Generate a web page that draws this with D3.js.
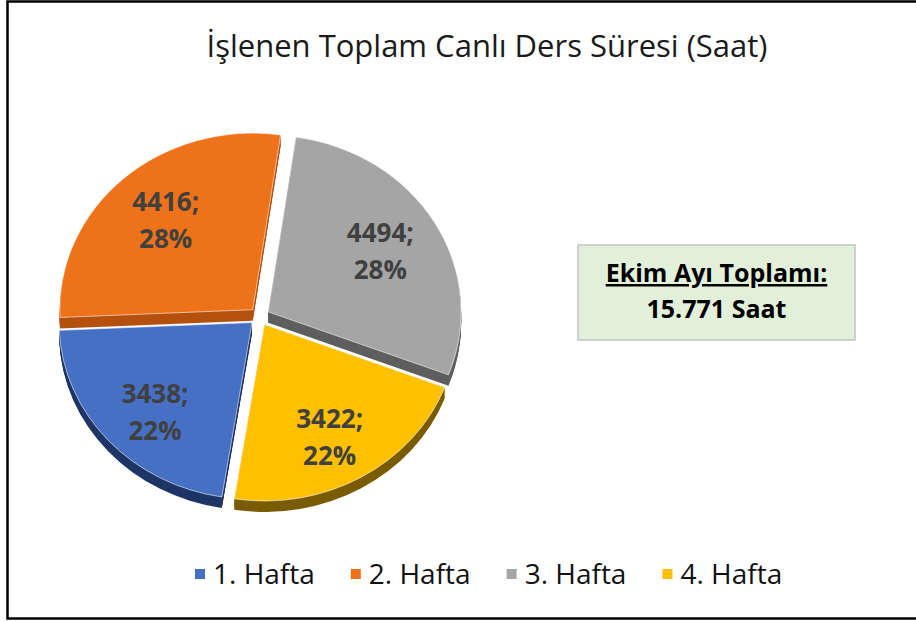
<!DOCTYPE html>
<html>
<head>
<meta charset="utf-8">
<script src="https://d3js.org/d3.v7.min.js"></script>
<style>
  body { margin: 0; background: #fff; }
  text { font-family: "Open Sans", sans-serif; }
</style>
</head>
<body>
<div id="chart"></div>
<script>
// chart values
const categories = ["1. Hafta", "2. Hafta", "3. Hafta", "4. Hafta"];
const hours = [3438, 4416, 4494, 3422];
const percents = ["22%", "28%", "28%", "22%"];
const topColors = ["#4570C4", "#EE7219", "#A5A5A5", "#FFC000"];
const sideColors = ["#1f3566", "#b5510f", "#5f5f5f", "#7a5c00"];
const titleText = "İşlenen Toplam Canlı Ders Süresi (Saat)";
const boxLines = ["Ekim Ayı Toplamı:", "15.771 Saat"];

const w = 916, h = 621;
const cx = 259.5, cy = 316.5;
const radius = 193, tilt = 0.915, depth = 11, explode = 10;
const deg = Math.PI / 180;

const svg = d3.select('#chart').append('svg')
    .attr('width', w)
    .attr('height', h);

// frame (left, top, bottom lines)
svg.append('path')
    .attr('d', 'M916,1.5 H7.5 V618.5 H916')
    .attr('fill', 'none')
    .attr('stroke', '#000')
    .attr('stroke-width', 2.5);

svg.append('text')
    .attr('x', 487)
    .attr('y', 57)
    .attr('text-anchor', 'middle')
    .attr('font-size', 31)
    .attr('fill', '#1a1a1a')
    .text(titleText);

const pie = d3.pie().sort(null)
    .startAngle(189 * deg)
    .endAngle(189 * deg + 2 * Math.PI);
const arcs = pie(hours);
const arc = d3.arc().innerRadius(0).outerRadius(radius);

const offset = (d) => {
    const mid = (d.startAngle + d.endAngle) / 2;
    return [Math.sin(mid) * explode, -Math.cos(mid) * explode];
};

const pieG = svg.append('g').attr('transform', `translate(${cx},${cy})`);

// side walls: stacked copies shifted down
for (let k = depth; k >= 1; k--) {
    pieG.append('g')
        .attr('transform', `translate(0,${k}) scale(1,${tilt})`)
        .selectAll('path')
        .data(arcs)
        .enter()
        .append('path')
        .attr('transform', d => `translate(${offset(d)})`)
        .attr('d', arc)
        .attr('fill', (d, i) => sideColors[i]);
}

// top faces
pieG.append('g')
    .attr('transform', `scale(1,${tilt})`)
    .selectAll('path')
    .data(arcs)
    .enter()
    .append('path')
    .attr('transform', d => `translate(${offset(d)})`)
    .attr('d', arc)
    .attr('fill', (d, i) => topColors[i])
    .attr('stroke', '#fff')
    .attr('stroke-opacity', 0.6)
    .attr('stroke-width', 1);

// data labels
const labelArc = d3.arc().innerRadius(130).outerRadius(130);
const labels = pieG.selectAll('g.lbl')
    .data(arcs)
    .enter()
    .append('g')
    .attr('class', 'lbl')
    .attr('transform', d => {
        const c = labelArc.centroid(d);
        const o = offset(d);
        const mid = (d.startAngle + d.endAngle) / 2;
        const front = Math.cos(mid) < 0 ? depth : 0;
        return `translate(${c[0] + o[0]},${(c[1] + o[1]) * tilt + front})`;
    });
labels.append('text')
    .attr('y', -10)
    .attr('text-anchor', 'middle')
    .attr('font-size', 26)
    .attr('font-weight', 'bold')
    .attr('fill', '#404040')
    .text(d => d.data + ';');
labels.append('text')
    .attr('y', 27)
    .attr('text-anchor', 'middle')
    .attr('font-size', 26)
    .attr('font-weight', 'bold')
    .attr('fill', '#404040')
    .text((d, i) => percents[i]);

// total box
const box = svg.append('g').attr('transform', 'translate(578,245)');
box.append('rect')
    .attr('width', 277)
    .attr('height', 95)
    .attr('fill', '#E2F0D9')
    .attr('stroke', '#c4c4c4')
    .attr('stroke-width', 1.5);
box.append('text')
    .attr('x', 138.5)
    .attr('y', 37)
    .attr('text-anchor', 'middle')
    .attr('font-size', 25)
    .attr('font-weight', 'bold')
    .attr('fill', '#000')
    .attr('text-decoration', 'underline')
    .text(boxLines[0]);
box.append('text')
    .attr('x', 138.5)
    .attr('y', 73)
    .attr('text-anchor', 'middle')
    .attr('font-size', 25)
    .attr('font-weight', 'bold')
    .attr('fill', '#000')
    .text(boxLines[1]);

// legend
const legend = svg.append('g').attr('transform', 'translate(195,574)');
let lx = 0;
categories.forEach((c, i) => {
    const item = legend.append('g').attr('transform', `translate(${lx},0)`);
    item.append('rect')
        .attr('x', 0)
        .attr('y', -5)
        .attr('width', 10)
        .attr('height', 10)
        .attr('fill', topColors[i]);
    const t = item.append('text')
        .attr('x', 18)
        .attr('y', 10)
        .attr('font-size', 28)
        .attr('fill', '#111')
        .text(c);
    lx += 18 + t.node().getComputedTextLength() + 36;
});
</script>
</body>
</html>
